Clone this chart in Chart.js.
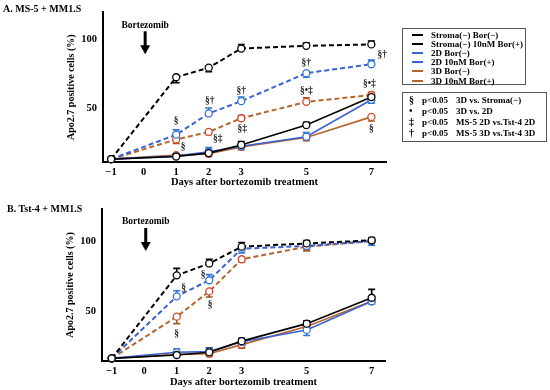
<!DOCTYPE html>
<html>
<head>
<meta charset="utf-8">
<script src="https://cdn.jsdelivr.net/npm/chart.js@4.4.1/dist/chart.umd.min.js"></script>
<style>
  body { margin: 0; background: #fff; }
  #wrap { position: relative; width: 550px; height: 390px; overflow: hidden;
          font-family: "Liberation Serif", "Times New Roman", serif; font-weight: bold; color: #000; }
  canvas { position: absolute; left: 0; }
  #cA { top: 0; }
  #cB { top: 190px; }
  .title { position: absolute; font-size: 10px; white-space: nowrap; }
  .box { position: absolute; border: 1px solid #555; background: #fff; font-size: 9px; }
  .row { position: absolute; white-space: nowrap; line-height: 10px; }
  .sample { position: absolute; width: 11px; height: 0; }
</style>
</head>
<body>
<div id="wrap">
  <canvas id="cA" width="550" height="190"></canvas>
  <canvas id="cB" width="550" height="200"></canvas>
  <div class="title" style="left:3px;top:3px">A. MS-5 + MM1.S</div>
  <div class="title" style="left:7px;top:203px">B. Tst-4 + MM1.S</div>
  <div class="box" id="legend1" style="left:402px;top:28px;width:122px;height:55px"></div>
  <div class="box" id="legend2" style="left:402px;top:92px;width:143px;height:48px"></div>
</div>
<script>
// Days of measurement and axis ticks
var days = [-1, 1, 2, 3, 5, 7];
var xTicks = [-1, 0, 1, 2, 3, 5, 7];
var yTicks = [50, 100];

var seriesLabels = ['Stroma(\u2212) Bor(\u2212)', 'Stroma(\u2212) 10nM Bor(+)', '2D Bor(\u2212)',
                    '2D 10nM Bor(+)', '3D Bor(\u2212)', '3D 10nM Bor(+)'];

// Panel A: MS-5 + MM1.S  (Apo2.7 positive cells, %)
var aStromaNeg = [12.6, 14.5, 17.0, 23.0, 37.5, 58.0];
var aStromaBor = [12.6, 72.5, 79.5, 93.5, 95.5, 96.5];
var a2dNeg     = [12.6, 14.8, 18.0, 22.0, 29.0, 56.0];
var a2dBor     = [12.6, 30.5, 46.0, 55.0, 75.5, 82.0];
var a3dNeg     = [12.6, 15.5, 16.5, 21.5, 28.5, 43.5];
var a3dBor     = [12.6, 27.0, 32.5, 42.5, 54.5, 59.5];
// error bars (signed: + drawn up, - drawn down)
var aStromaNegErr = [0, 1.5, 2, 2.5, 2, 2];
var aStromaBorErr = [0, -4, -3, 3, 2, 2.5];
var a2dNegErr     = [0, 1.5, 3, 2, 3, -2.5];
var a2dBorErr     = [0, 3.5, 4, 3, -3, 3];
var a3dNegErr     = [0, -1.5, -2, -2, -2.5, -3];
var a3dBorErr     = [0, -3, -2, 2, 3, 2];

// Panel B: Tst-4 + MM1.S
var bStromaNeg = [16.2, 18.6, 20.5, 28.5, 41.0, 59.5];
var bStromaBor = [16.2, 75.5, 84.0, 96.0, 98.3, 100.5];
var b2dNeg     = [16.2, 20.5, 21.0, 28.0, 36.5, 57.0];
var b2dBor     = [16.2, 60.5, 72.0, 94.5, 96.5, 100.0];
var b3dNeg     = [16.2, 19.0, 19.5, 26.0, 39.0, 57.0];
var b3dBor     = [16.2, 46.0, 64.0, 87.0, 96.0, 100.0];
var bStromaNegErr = [0, 1.5, 3, 2, 2, 6];
var bStromaBorErr = [0, 5, 3, 3, 2, 2];
var b2dNegErr     = [0, 2.5, 2, 2.5, -4, -2];
var b2dBorErr     = [0, 4, 4, -3, -3, -3];
var b3dNegErr     = [0, -1.5, -2, -2.5, -2, 3];
var b3dBorErr     = [0, -5, -4, -2, -3, 2];

// Significance marks: series index, day index, text
var aMarks = [
  {s: 3, i: 1, t: '\u00a7', dx: 0, dy: -14}, {s: 5, i: 1, t: '\u00a7', dx: 7, dy: 7},
  {s: 3, i: 2, t: '\u00a7\u2020', dx: 1, dy: -13}, {s: 5, i: 2, t: '\u00a7\u2021', dx: 9, dy: 7},
  {s: 3, i: 3, t: '\u00a7\u2020', dx: 0, dy: -11}, {s: 5, i: 3, t: '\u00a7\u2021', dx: 1, dy: 10},
  {s: 3, i: 4, t: '\u00a7\u2020', dx: 0, dy: -11}, {s: 5, i: 4, t: '\u00a7\u2022\u2021', dx: 0, dy: -11},
  {s: 3, i: 5, t: '\u00a7\u2020', dx: 11, dy: -10}, {s: 5, i: 5, t: '\u00a7\u2022\u2021', dx: -2, dy: -11},
  {s: 4, i: 5, t: '\u00a7', dx: 0, dy: 12}
];
var bMarks = [
  {s: 3, i: 1, t: '\u00a7', dx: 7, dy: -9}, {s: 5, i: 1, t: '\u00a7', dx: 0, dy: 17},
  {s: 3, i: 2, t: '\u00a7', dx: -6, dy: -6}, {s: 5, i: 2, t: '\u00a7', dx: 1, dy: 13}
];

var sigSymbols = ['\u00a7', '\u2022', '\u2021', '\u2020'];
var sigTexts = ['3D vs. Stroma(\u2212)', '3D vs. 2D', 'MS-5 2D vs.Tst-4 2D', 'MS-5 3D vs.Tst-4 3D'];

var FONT = '"Liberation Serif", "Times New Roman", serif';
var BLACK = '#000000';
var BLUE = '#3a62d2';
var BLUE_PT = '#2f74d8';
var BROWN = '#b5652c';
var RED_PT = '#d4452a';

var lineStyles = [
  {color: BLACK, dash: false, pt: BLACK, err: BLACK},
  {color: BLACK, dash: true, pt: BLACK, err: BLACK},
  {color: BLUE, dash: false, pt: BLUE_PT, err: BLUE_PT},
  {color: BLUE, dash: true, pt: BLUE_PT, err: BLUE_PT},
  {color: BROWN, dash: false, pt: RED_PT, err: '#a0561c'},
  {color: BROWN, dash: true, pt: RED_PT, err: '#a0561c'}
];

/**
 * Error bars, significance marks and the bortezomib arrow
 */
var extras = {
  id: 'extras',
  beforeDatasetsDraw: function(chart) {
    var ctx = chart.ctx;
    var y = chart.scales.y;
    chart.data.datasets.forEach(function(d, di) {
      var meta = chart.getDatasetMeta(di);
      meta.data.forEach(function(pt, i) {
        var e = d.err[i];
        if (!e) {
          return;
        }
        var py = y.getPixelForValue(d.data[i].y + e);
        ctx.save();
        ctx.strokeStyle = d.errColor;
        ctx.lineWidth = 1.6;
        ctx.beginPath();
        ctx.moveTo(pt.x, pt.y);
        ctx.lineTo(pt.x, py);
        ctx.moveTo(pt.x - 3.5, py);
        ctx.lineTo(pt.x + 3.5, py);
        ctx.stroke();
        ctx.restore();
      });
    });
  },
  afterDatasetsDraw: function(chart, args, opts) {
    var ctx = chart.ctx;
    ctx.save();
    ctx.font = 'bold 9.5px ' + FONT;
    ctx.fillStyle = '#222';
    ctx.textAlign = 'center';
    ctx.textBaseline = 'middle';
    opts.marks.forEach(function(m) {
      var pt = chart.getDatasetMeta(m.s).data[m.i];
      ctx.fillText(m.t, pt.x + m.dx, pt.y + m.dy);
    });

    // Bortezomib label and arrow at day 0
    var x0 = chart.scales.x.getPixelForValue(0) + 1.5;
    var top = chart.chartArea.top;
    ctx.fillStyle = '#000';
    ctx.font = 'bold 9.5px ' + FONT;
    ctx.fillText('Bortezomib', x0, top + 13);
    ctx.fillRect(x0 - 1.5, top + 19, 3, 15);
    ctx.beginPath();
    ctx.moveTo(x0 - 5, top + 33);
    ctx.lineTo(x0 + 5, top + 33);
    ctx.lineTo(x0, top + 42);
    ctx.closePath();
    ctx.fill();
    ctx.restore();
  }
};

function buildDatasets(values, errs) {
  return values.map(function(vals, k) {
    var st = lineStyles[k];
    return {
      label: seriesLabels[k],
      data: days.map(function(d, i) { return {x: d, y: vals[i]}; }),
      err: errs[k],
      errColor: st.err,
      borderColor: st.color,
      borderWidth: st.dash ? 2 : 1.6,
      borderDash: st.dash ? [5, 3] : [],
      pointRadius: 3.5,
      pointBackgroundColor: '#fff',
      pointBorderColor: st.pt,
      pointBorderWidth: 1.3,
      tension: 0,
      clip: false
    };
  });
}

function makeChart(id, values, errs, marks, lay) {
  var tickFont = {family: FONT, weight: 'bold', size: 10.5};
  return new Chart(document.getElementById(id), {
    type: 'line',
    data: {datasets: buildDatasets(values, errs)},
    plugins: [extras],
    options: {
      responsive: false,
      animation: false,
      layout: {autoPadding: false, padding: {left: lay.left, right: lay.right, top: lay.top, bottom: 0}},
      plugins: {
        legend: {display: false},
        tooltip: {enabled: false},
        extras: {marks: marks}
      },
      scales: {
        x: {
          type: 'linear',
          min: lay.xmin,
          max: lay.xmax,
          afterBuildTicks: function(s) { s.ticks = xTicks.map(function(v) { return {value: v}; }); },
          afterFit: function(s) { s.height = lay.xh; },
          grid: {display: false, drawTicks: false},
          border: {color: '#000', width: 2},
          ticks: {
            color: '#000', font: tickFont, padding: 4, maxRotation: 0,
            callback: function(v) { return v < 0 ? '\u2212' + Math.abs(v) : String(v); }
          },
          title: {display: true, text: 'Days after bortezomib treatment', color: '#000',
                  font: tickFont, padding: {top: 0, bottom: 1}}
        },
        y: {
          min: lay.ymin,
          max: lay.ymax,
          afterBuildTicks: function(s) { s.ticks = yTicks.map(function(v) { return {value: v}; }); },
          afterFit: function(s) { s.width = lay.yw; },
          grid: {display: false, drawTicks: false},
          border: {color: '#000', width: 2},
          ticks: {color: '#000', font: tickFont, padding: 6},
          title: {display: true, text: 'Apo2.7 positive cells (%)', color: '#000',
                  font: {family: FONT, weight: 'bold', size: 10}, padding: {top: 4, bottom: 0}}
        }
      }
    }
  });
}

makeChart('cA',
  [aStromaNeg, aStromaBor, a2dNeg, a2dBor, a3dNeg, a3dBor],
  [aStromaNegErr, aStromaBorErr, a2dNegErr, a2dBorErr, a3dNegErr, a3dBorErr],
  aMarks,
  {left: 61, right: 164, top: 10, yw: 42, xh: 28, xmin: -1.25, xmax: 7.45, ymin: 10.5, ymax: 120});

makeChart('cB',
  [bStromaNeg, bStromaBor, b2dNeg, b2dBor, b3dNeg, b3dBor],
  [bStromaNegErr, bStromaBorErr, b2dNegErr, b2dBorErr, b3dNegErr, b3dBorErr],
  bMarks,
  {left: 60, right: 165, top: 19, yw: 42, xh: 29, xmin: -1.3, xmax: 7.41, ymin: 14.3, ymax: 122.9});

// Legend boxes
var l1 = document.getElementById('legend1');
seriesLabels.forEach(function(lbl, k) {
  var st = lineStyles[k];
  var cy = 6 + k * 9.1;
  var s = document.createElement('div');
  s.className = 'sample';
  s.style.left = '9px';
  s.style.top = (cy - 1) + 'px';
  s.style.borderTop = '2px ' + (st.dash ? 'dashed ' : 'solid ') + st.color;
  l1.appendChild(s);
  var r = document.createElement('div');
  r.className = 'row';
  r.style.left = '28px';
  r.style.top = (cy - 5) + 'px';
  r.textContent = lbl;
  l1.appendChild(r);
});

var l2 = document.getElementById('legend2');
sigSymbols.forEach(function(sym, k) {
  var cy = 7 + k * 11;
  var a = document.createElement('div');
  a.className = 'row';
  a.style.left = '6px';
  a.style.top = (cy - 5) + 'px';
  a.style.fontSize = '10px';
  a.textContent = sym;
  l2.appendChild(a);
  var b = document.createElement('div');
  b.className = 'row';
  b.style.left = '19px';
  b.style.top = (cy - 5) + 'px';
  b.textContent = 'p<0.05';
  l2.appendChild(b);
  var c = document.createElement('div');
  c.className = 'row';
  c.style.left = '53px';
  c.style.top = (cy - 5) + 'px';
  c.textContent = sigTexts[k];
  l2.appendChild(c);
});
</script>
</body>
</html>
